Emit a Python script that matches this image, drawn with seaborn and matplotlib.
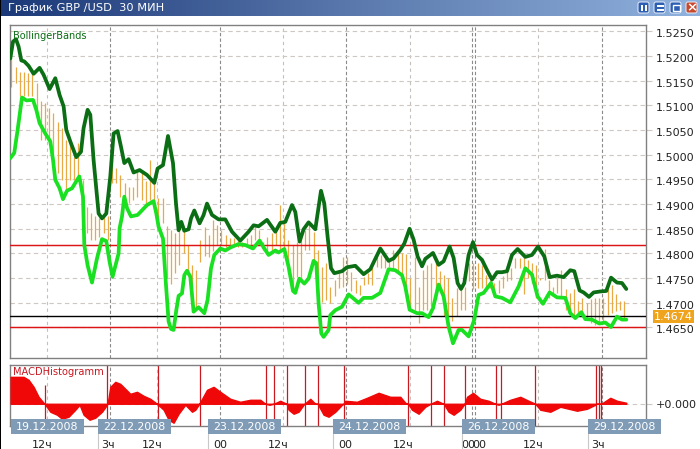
import numpy as np
import pandas as pd
import matplotlib
matplotlib.use("Agg")
import matplotlib.pyplot as plt
import matplotlib.transforms as mtrans
from matplotlib.lines import Line2D
from matplotlib.patches import Rectangle, FancyBboxPatch
from matplotlib.colors import LinearSegmentedColormap
import seaborn as sns

upper_t = [0,2.7,5.7,8.3,11,14,18.3,23.3,29.3,33.3,39.3,45,49.3,53.3,56,60.7,66,70.7,73.3,77.3,80,83.3,88.3,91.7,96,100,103.3,107.3,110.7,114,118.3,123.3,129.3,136.7,144,147.3,152.7,157.7,162.7,
 165.7,168.3,171,174,178.3,180.7,184,189.3,193.3,196.7,201.7,208.3,215,221.7,230,238.3,243.3,248.3,256.7,265,270,275,281.7,285,289.3,293.3,298.3,305,310.7,314,317.3,320.7,324,331.7,336.7,345,353.3,360,370,378.3,383.3,390,394,
 399.3,403.3,407.3,411.7,415,422.7,428.3,433.3,439.3,443.3,447.3,450.7,454,458.3,462.7,466.7,471.7,477.3,481.7,486.7,491.7,496.7,501.7,507.3,515,521.7,527.7,534,539.3,546.7,553.3,560,564,569.3,573.3,578.7,583.3,590,596,600.7,606.7,611.7,616]
upper_v = [1.5195,1.5229,1.5234,1.5219,1.5191,1.5189,1.5180,1.5164,1.5176,1.5162,1.5133,1.5155,1.5121,1.5098,1.5050,1.5023,1.4995,1.5006,1.5054,1.5091,1.5081,1.4989,1.4881,1.4871,1.4881,1.4956,1.5043,1.5048,1.5016,1.4983,1.4991,1.4964,1.4969,1.4959,1.4943,1.4972,1.4979,1.5038,1.4983,
 1.4901,1.4847,1.4864,1.4846,1.4849,1.4871,1.4887,1.4861,1.4878,1.4901,1.4878,1.4869,1.4869,1.4844,1.4826,1.4844,1.4857,1.4855,1.4868,1.4844,1.4862,1.4864,1.4898,1.4884,1.4824,1.4849,1.4863,1.4849,1.4927,1.4901,1.4834,1.4770,1.4760,1.4764,1.4772,1.4775,1.4758,1.4768,1.4810,1.4785,1.4790,1.4807,1.4820,
 1.4850,1.4828,1.4794,1.4774,1.4789,1.4801,1.4777,1.4784,1.4814,1.4791,1.4740,1.4728,1.4740,1.4797,1.4823,1.4797,1.4787,1.4764,1.4747,1.4762,1.4762,1.4764,1.4797,1.4809,1.4793,1.4797,1.4814,1.4794,1.4752,1.4755,1.4752,1.4766,1.4764,1.4725,1.4721,1.4712,1.4721,1.4723,1.4724,1.4751,1.4741,1.4740,1.4728]

lower_t = [0,4,7.3,11.7,16,22.7,26,29.3,35,40,42.7,45,49.3,52.7,56.7,61.7,69,72.7,74,77.3,81.7,86.7,91.7,96,99.3,102.3,108.3,109.3,111.7,114,116.7,120.7,127.3,136.7,143.3,146,148.3,152.7,155,158.3,160.7,163.3,
 166,168.3,171.7,174,176.7,180,183.3,188.3,194,197.3,200.7,204,210,215,220,228.3,235,242.7,249.3,254,258.3,265,268.3,274,278.3,282.7,285,289,294,298.3,303.3,306,308.3,311,313.3,318.3,320,325,331.7,338.3,348.3,353.3,361.7,370,378.3,385,391.7,395,
 399.3,406.7,411.7,418.3,422.7,428.3,433.3,438.3,442.7,448.3,451.7,458.3,464,468.3,473.3,480.7,485,491.7,500,508.3,515,521.7,527.3,532.7,539.3,546.7,555,560,565,571,575,581.7,589,595,600.7,606.7,611.7,616]
lower_v = [1.4993,1.5004,1.5050,1.5116,1.5110,1.5111,1.5091,1.5064,1.5043,1.5027,1.4990,1.4949,1.4932,1.4910,1.4927,1.4932,1.4956,1.4915,1.4817,1.4776,1.4741,1.4790,1.4829,1.4825,1.4783,1.4753,1.4800,1.4851,1.4875,1.4915,1.4892,1.4875,1.4878,1.4898,1.4906,1.4881,1.4854,1.4830,1.4756,1.4662,1.4647,1.4645,
 1.4685,1.4714,1.4719,1.4756,1.4765,1.4753,1.4682,1.4691,1.4679,1.4706,1.4770,1.4797,1.4810,1.4806,1.4812,1.4819,1.4817,1.4810,1.4826,1.4810,1.4797,1.4806,1.4802,1.4809,1.4773,1.4724,1.4720,1.4749,1.4739,1.4749,1.4785,1.4780,1.4699,1.4638,1.4631,1.4645,1.4675,1.4685,1.4692,1.4717,1.4700,1.4710,1.4710,1.4720,1.4768,1.4766,1.4756,1.4733,
 1.4686,1.4679,1.4679,1.4671,1.4689,1.4737,1.4713,1.4652,1.4618,1.4645,1.4645,1.4632,1.4666,1.4716,1.4720,1.4740,1.4713,1.4710,1.4701,1.4733,1.4770,1.4757,1.4713,1.4698,1.4721,1.4711,1.4710,1.4679,1.4669,1.4681,1.4667,1.4666,1.4658,1.4660,1.4651,1.4672,1.4666,1.4666]

bar_high = [1.5195,1.5178,1.5168,1.5168,1.5165,1.5165,1.5145,1.5108,1.5104,1.5094,1.5084,1.5067,1.5054,1.5030,1.5023,1.4996,1.5023,1.4949,1.4895,1.4881,1.4875,1.4871,1.4878,1.4875,1.4989,1.4973,1.4959,1.4942,1.4935,1.4935,1.4966,1.4962,1.4946,1.4989,1.4956,1.4912,1.4912,1.4855,
 1.4847,1.4841,1.4854,1.4851,1.4817,1.4777,1.4767,1.4827,1.4854,1.4837,1.4868,1.4858,1.4847,1.4837,1.4831,1.4831,1.4827,1.4824,1.4831,1.4837,1.4854,1.4847,1.4824,1.4834,1.4841,1.4847,1.4898,1.4868,1.4827,1.4817,1.4824,1.4834,1.4847,1.4858,1.4844,1.4807,1.4773,1.4780,1.4733,1.4746,1.4760,1.4793,1.4792,1.4763,1.4746,1.4736,1.4753,1.4760,1.4773,1.4800,1.4797,1.4792,1.4787,1.4807,1.4800,
 1.4801,1.4798,1.4750,1.4793,1.4733,1.4767,1.4777,1.4781,1.4787,1.4764,1.4757,1.4750,1.4710,1.4730,1.4730,1.4733,1.4781,1.4781,1.4781,1.4777,1.4757,1.4747,1.4740,1.4747,1.4754,1.4764,1.4771,1.4791,1.4791,1.4798,1.4787,1.4781,1.4777,1.4750,1.4808,1.4747,1.4733,1.4750,1.4767,1.4727,1.4720,1.4727,1.4703,1.4710,1.4700,1.4707,1.4710,1.4710,1.4710,1.4727,1.4737,1.4717,1.4703,1.4703]
bar_low = [1.5138,1.5145,1.5118,1.5118,1.5118,1.5118,1.5091,1.5030,1.5030,1.5023,1.5003,1.4962,1.4949,1.4929,1.4949,1.4949,1.4956,1.4875,1.4841,1.4827,1.4827,1.4834,1.4841,1.4827,1.4942,1.4942,1.4915,1.4902,1.4902,1.4908,1.4915,1.4908,1.4902,1.4908,1.4908,1.4855,1.4861,1.4750,
 1.4739,1.4760,1.4777,1.4800,1.4756,1.4709,1.4689,1.4783,1.4795,1.4793,1.4804,1.4817,1.4817,1.4814,1.4814,1.4817,1.4814,1.4814,1.4817,1.4817,1.4827,1.4817,1.4807,1.4800,1.4804,1.4817,1.4810,1.4807,1.4760,1.4723,1.4753,1.4746,1.4807,1.4807,1.4787,1.4736,1.4702,1.4706,1.4699,1.4713,1.4729,1.4733,1.4739,1.4723,1.4719,1.4716,1.4736,1.4739,1.4736,1.4773,1.4770,1.4770,1.4773,1.4767,1.4763,
 1.4747,1.4733,1.4686,1.4686,1.4659,1.4686,1.4686,1.4693,1.4707,1.4737,1.4673,1.4663,1.4663,1.4673,1.4686,1.4686,1.4744,1.4727,1.4730,1.4730,1.4727,1.4730,1.4720,1.4720,1.4730,1.4744,1.4747,1.4771,1.4771,1.4717,1.4750,1.4740,1.4710,1.4747,1.4747,1.4710,1.4713,1.4720,1.4713,1.4686,1.4676,1.4676,1.4676,1.4673,1.4669,1.4659,1.4656,1.4659,1.4659,1.4676,1.4679,1.4683,1.4686,1.4666]

macd_t = [0.3,13.3,18.3,23.3,28.3,33.3,34.3,40,46.7,51.7,58.3,65,69.3,73.3,79.3,85,91.7,96.7,97.3,100,105,110,115,120,126.7,133.3,140,146.7,153.3,158.3,163.3,168.3,175,181.7,185,189,196.7,203.3,210,220,
 230,240,250,255,259.3,263.3,270,276.3,278.3,283.3,288.3,293.3,294.3,300,305,307.3,313.3,318.3,325,331.7,333.3,335,346.7,356.7,368.3,380,390,395,397.7,401.7,408.3,415,420.3,426.7,433.3,438.3,443.3,450,
 454.3,456.7,462.7,470,478.3,485,488.3,491,500,510,518.3,525,530,540,550,566.7,576.7,585,586,591,600,606.7,616]
macd_v = [.0027,.0027,.0024,.0017,.0007,.0001,0,-.0008,-.0011,-.0015,-.0013,-.0006,-.0001,-.0011,-.0016,-.0014,-.0008,-.0001,0,.0017,.0022,.0020,.0015,.0010,.0012,.0008,.0005,0,-.0006,-.0016,-.0019,-.0010,-.0001,-.0008,-.0006,0,.0014,.0017,.0012,.0005,
 .0002,.0004,.0004,0,-.0001,0,.0003,0,-.0006,-.0010,-.0008,-.0001,0,.0005,0,0,-.0011,-.0013,-.0008,-.0001,0,.0003,.0002,.0006,.0011,.0007,.0007,.0001,0,-.0006,-.0010,-.0003,0,.0003,0,-.0008,-.0011,-.0006,
 0,.0007,.0011,.0005,.0003,0,-.0001,0,.0004,.0007,.0003,0,-.0006,-.0008,-.0003,-.0007,-.0005,-.0001,0,0,.0006,.0003,.0001]
macd_cross = [97,147.3,189.3,255.3,263.3,276.3,294.3,307.3,333.3,397.7,420.3,433.3,454.3,486,491,525,586,588.3,591]

y_ticks = [1.525,1.52,1.515,1.51,1.505,1.50,1.495,1.49,1.485,1.48,1.475,1.47,1.465]
grid_light = [37,147,273,399.5,528]
grid_dark = [100,210,336,461.7,465,591.7]
time_ticks = [32,98,142,210,268,335,393,457.5,468.5,523,588]
time_labels = ["12ч","3ч","12ч","00","12ч","00","12ч","00","00","12ч","3ч"]
date_labels = ["19.12.2008","22.12.2008","23.12.2008","24.12.2008","26.12.2008","29.12.2008"]
date_starts = [11,98,208,333,462,588]
resist, support, last_price = 1.4818, 1.4650, 1.4674

sns.set_theme(style="white")
plt.rcParams['font.family'] = ['DejaVu Sans']
W, H = 700, 449
fig = plt.figure(figsize=(W/100, H/100), dpi=100, facecolor='white')
def px_axes(l, t, r, b, **kw):
    return fig.add_axes([l/W, 1-b/H, (r-l)/W, (b-t)/H], **kw)

GRID = '#cfc8c2'
SPINE = '#808080'
ax = px_axes(10.3, 24.7, 646, 358)
for v in grid_light:
    ax.axvline(v, color='#c4c0bc', lw=.8, dashes=(3, 3), zorder=1)
for v in grid_dark:
    ax.axvline(v, color='#8a8a8a', lw=.8, dashes=(3, 2), zorder=1)
for v in y_ticks:
    ax.axhline(v, color=GRID, lw=.8, dashes=(4, 3), zorder=1)

bar_t = 1 + 4.2*np.arange(len(bar_high))
bars = ax.vlines(bar_t, bar_low, bar_high, color='#e8aa44', lw=.9, zorder=2)
bars.set_snap(True)
ax.axhline(resist, color='#dc1414', lw=1.05, zorder=3)
ax.axhline(support, color='#dc1414', lw=1.05, zorder=3)
ax.axhline(last_price, color='black', lw=1.0, zorder=3)

up = pd.DataFrame({'t': upper_t, 'v': upper_v})
lo = pd.DataFrame({'t': lower_t, 'v': lower_v})
sns.lineplot(data=lo, x='t', y='v', ax=ax, color='#1ae022', lw=2.7, estimator=None, sort=False, zorder=4, legend=False)
sns.lineplot(data=up, x='t', y='v', ax=ax, color='#0b6e14', lw=2.7, estimator=None, sort=False, zorder=5, legend=False)

ax.set_xlim(0, 635.7)
ax.set_ylim(1.45882, 1.52634)
ax.set_xlabel(''); ax.set_ylabel('')
ax.set_xticks([])
ax.yaxis.tick_right()
ax.set_yticks(y_ticks)
ax.set_yticklabels([f'{v:.4f}' for v in y_ticks])
ax.tick_params(axis='y', length=4, width=.8, color=GRID, pad=3, labelsize=8, labelcolor='#222222', right=True)
offs = mtrans.ScaledTranslation(0, -2/100, fig.dpi_scale_trans)
for lab in ax.get_yticklabels():
    lab.set_transform(lab.get_transform() + offs)
for s in ax.spines.values():
    s.set_color(SPINE); s.set_linewidth(1)
ax.text(0.0035, 0.982, 'BollingerBands', transform=ax.transAxes, color='#0b6e14', fontsize=7, va='top', ha='left', zorder=6)
ax.annotate(f'{last_price:.4f}', xy=(1, last_price), xycoords=('axes fraction', 'data'),
            xytext=(8, -1), textcoords='offset pixels', color='white', fontsize=8, va='center', ha='left',
            annotation_clip=False, bbox=dict(boxstyle='square,pad=0.12', fc='#f0a41e', ec='none'), zorder=7)

m = px_axes(10.3, 364.5, 646, 426)
for v in grid_light:
    m.axvline(v, color='#c4c0bc', lw=.8, dashes=(3, 3), zorder=1)
for v in grid_dark:
    m.axvline(v, color='#8a8a8a', lw=.8, dashes=(3, 2), zorder=1)
m.axhline(0, color=GRID, lw=.8, dashes=(4, 3), zorder=1)
m.fill_between(macd_t, 0, macd_v, color='#f00808', lw=1.0, zorder=3)
m.vlines(macd_cross, -1, 1, color='#c81820', lw=.9, zorder=2)
m.vlines([34.3], -1, 0.0019, color='#c81820', lw=.9, zorder=2)
m.set_xlim(0, 635.7)
m.set_ylim(-0.00223, 0.00394)
m.yaxis.tick_right()
m.set_yticks([0])
m.set_yticklabels(['+0.000'])
m.tick_params(axis='y', length=4, width=.8, color=GRID, pad=3, labelsize=8, labelcolor='#222222', right=True)
m.set_xticks(time_ticks)
m.set_xticklabels(time_labels)
m.tick_params(axis='x', length=0, pad=10, labelsize=8, labelcolor='#222222', bottom=True)
for s in m.spines.values():
    s.set_color(SPINE); s.set_linewidth(1)
m.text(0.0035, 0.965, 'MACDHistogramm', transform=m.transAxes, color='#c81820', fontsize=7.15, va='top', ha='left', zorder=6)

# overlay layer in pixel units: window title bar, date flags
o = fig.add_axes([0, 0, 1, 1], facecolor='none', zorder=10)
o.set_xlim(0, W); o.set_ylim(H, 0); o.axis('off')
grad = np.linspace(0, 1, 256)[None, :]
cm = LinearSegmentedColormap.from_list('tb', ['#1b3878', '#5a78ac', '#90b2de'])
o.imshow(grad, extent=(0, W, 16.5, 0), cmap=cm, aspect='auto', zorder=1)
o.set_xlim(0, W); o.set_ylim(H, 0)
o.text(8, 8.3, 'График GBP /USD  30 МИН', color='white', fontsize=8.2, va='center', ha='left', zorder=2)
o.add_patch(Rectangle((0, 0), 1.4, H, fc='black', ec='none', zorder=3))
for x0, col in zip([638, 654, 670, 686], ['#2c5fb4', '#2c5fb4', '#2c5fb4', '#c8492c']):
    o.add_patch(FancyBboxPatch((x0+1, 3), 9, 9, boxstyle='round,pad=1,rounding_size=2', fc=col, ec='#e8eef8', lw=.7, zorder=3))
o.add_patch(Rectangle((641, 4.5), 1.8, 6.5, fc='white', ec='none', zorder=4))
o.add_patch(Rectangle((644.8, 4.5), 1.8, 6.5, fc='white', ec='none', zorder=4))
o.add_patch(Rectangle((657, 4.5), 7, 2.2, fc='white', ec='none', zorder=4))
o.add_patch(Rectangle((657, 8.5), 7, 2.2, fc='white', ec='none', zorder=4))
o.add_patch(Rectangle((673, 4.5), 6.5, 6.5, fc='none', ec='white', lw=1, zorder=4))
o.text(691.5, 8, '×', color='white', fontsize=9.5, fontweight='bold', ha='center', va='center', zorder=4)

for lab, x0 in zip(date_labels, date_starts):
    o.add_patch(Rectangle((x0, 419), 73, 15, fc='#7f9bb6', ec='none', zorder=3))
    o.text(x0+36.5, 426.7, lab, color='white', fontsize=7.9, ha='center', va='center', zorder=4)
    if x0 != date_starts[0]:
        o.add_line(Line2D([x0, x0], [434, H], color='#c8c8c8', lw=.8, zorder=2))

fig.savefig('out.png', dpi=100)
